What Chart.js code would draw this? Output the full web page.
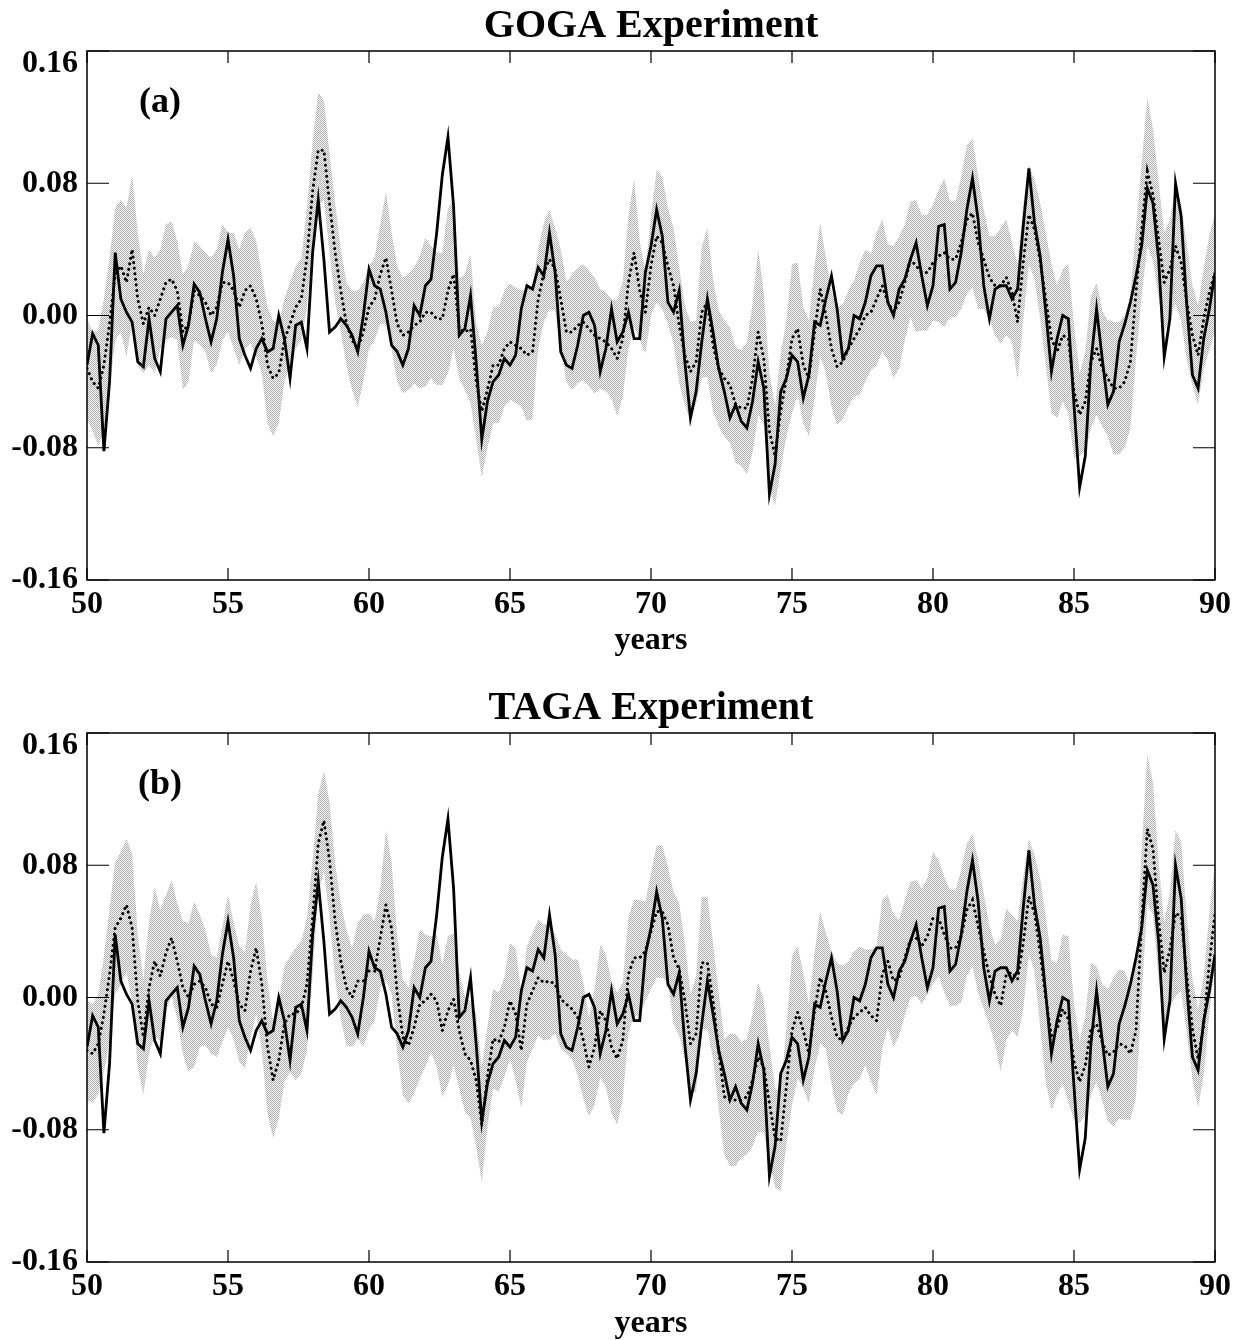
<!DOCTYPE html>
<html>
<head>
<meta charset="utf-8">
<title>GOGA / TAGA Experiment</title>
<script src="https://cdn.jsdelivr.net/npm/chart.js@4.4.1/dist/chart.umd.min.js"></script>
<style>
  html, body { margin: 0; padding: 0; background: #fff; }
  #wrap { position: relative; width: 1241px; height: 1340px; }
  canvas { position: absolute; left: 0; }
  #goga { top: 0; }
  #taga { top: 682px; }
</style>
</head>
<body>
<div id="wrap">
  <canvas id="goga" width="1241" height="682"></canvas>
  <canvas id="taga" width="1241" height="658"></canvas>
</div>
<script>
// every series is sampled each 0.2 year, from year 50.0 to 90.0 (one row per year)
const obs = [
  -0.030, -0.011, -0.018, -0.082, -0.040,
   0.038,  0.010,  0.002, -0.004, -0.028,
  -0.031, -0.002, -0.026, -0.034, -0.002,
   0.002,  0.006, -0.018, -0.006,  0.019,
   0.014, -0.002, -0.016, -0.002,  0.026,
   0.046,  0.024, -0.014, -0.024, -0.032,
  -0.020, -0.014, -0.022, -0.020,  0.000,
  -0.014, -0.038, -0.006, -0.004, -0.020,
   0.038,  0.070,  0.034, -0.010, -0.007,
  -0.002, -0.006, -0.012, -0.022,  0.000,
   0.028,  0.018,  0.016,  0.002, -0.018,
  -0.022, -0.030, -0.020,  0.006,  0.000,
   0.018,  0.022,  0.050,  0.085,  0.108,
   0.066, -0.012, -0.008,  0.012, -0.028,
  -0.075, -0.052, -0.040, -0.036, -0.026,
  -0.030, -0.024,  0.004,  0.018,  0.016,
   0.029,  0.024,  0.050,  0.026, -0.022,
  -0.030, -0.032, -0.018,  0.000,  0.002,
  -0.006, -0.034, -0.020,  0.004, -0.016,
  -0.010,  0.002, -0.014, -0.014,  0.026,
   0.042,  0.064,  0.048,  0.008,  0.002,
   0.015, -0.028, -0.062, -0.046, -0.016,
   0.010, -0.010, -0.032, -0.046, -0.062,
  -0.054, -0.064, -0.068, -0.052, -0.028,
  -0.044, -0.108, -0.090, -0.046, -0.038,
  -0.024, -0.028, -0.050, -0.036, -0.004,
  -0.006,  0.010,  0.024,  0.004, -0.026,
  -0.020,  0.000, -0.002,  0.008,  0.024,
   0.030,  0.030,  0.008,  0.000,  0.016,
   0.022,  0.034,  0.044,  0.024,  0.006,
   0.018,  0.054,  0.055,  0.016,  0.020,
   0.038,  0.064,  0.083,  0.058,  0.018,
  -0.002,  0.016,  0.018,  0.018,  0.010,
   0.016,  0.054,  0.089,  0.056,  0.036,
   0.002, -0.034, -0.014,  0.000, -0.002,
  -0.054, -0.104, -0.085, -0.028,  0.004,
  -0.026, -0.054, -0.046, -0.016, -0.005,
   0.008,  0.024,  0.042,  0.077,  0.068,
   0.034, -0.025, -0.002,  0.080,  0.060,
   0.006, -0.036, -0.044, -0.014,  0.004,
   0.026
];

// GOGA ensemble mean and half-width of the ensemble spread
const gogaMean = [
  -0.032, -0.040, -0.044, -0.030, -0.005,
   0.025,  0.030,  0.020,  0.040,  0.010,
  -0.005,  0.005,  0.000,  0.010,  0.020,
   0.022,  0.015, -0.010, -0.005,  0.015,
   0.012,  0.008,  0.000,  0.005,  0.020,
   0.020,  0.015,  0.005,  0.015,  0.018,
   0.010, -0.005, -0.030, -0.038, -0.035,
  -0.015, -0.005,  0.005,  0.010,  0.035,
   0.075,  0.100,  0.100,  0.068,  0.038,
   0.015, -0.005, -0.015, -0.020, -0.010,
   0.005,  0.010,  0.025,  0.035,  0.015,
  -0.005, -0.012, -0.010, -0.006, -0.004,
   0.002,  0.002, -0.002, -0.002,  0.015,
   0.025, -0.008, -0.010, -0.008, -0.040,
  -0.058, -0.045, -0.030, -0.030, -0.020,
  -0.016, -0.018, -0.020, -0.024, -0.022,
   0.010,  0.026,  0.034,  0.028,  0.010,
  -0.010, -0.010, -0.006, -0.004, -0.008,
  -0.012, -0.014, -0.016, -0.020, -0.026,
  -0.014,  0.020,  0.038,  0.015,  0.002,
   0.030,  0.048,  0.044,  0.030,  0.018,
  -0.006, -0.024, -0.034, -0.028,  0.002,
   0.008, -0.018, -0.032, -0.038, -0.042,
  -0.054, -0.056, -0.056, -0.038, -0.010,
  -0.026, -0.070, -0.085, -0.058, -0.038,
  -0.014, -0.008, -0.030, -0.038, -0.010,
   0.016,  0.000, -0.020, -0.031, -0.028,
  -0.020, -0.014, -0.008,  0.000,  0.002,
   0.010,  0.018,  0.008,  0.002,  0.008,
   0.020,  0.034,  0.030,  0.026,  0.026,
   0.032,  0.036,  0.038,  0.034,  0.034,
   0.044,  0.058,  0.062,  0.044,  0.034,
   0.023,  0.018,  0.018,  0.023,  0.014,
  -0.004,  0.032,  0.061,  0.052,  0.033,
   0.010, -0.014, -0.022, -0.012, -0.014,
  -0.046, -0.060, -0.052, -0.028, -0.020,
  -0.032, -0.038, -0.044, -0.044, -0.040,
  -0.028,  0.014,  0.052,  0.087,  0.073,
   0.046,  0.020,  0.028,  0.042,  0.032,
   0.008, -0.012, -0.024, -0.002,  0.014,
   0.026
];
const gogaSpread = [
  0.030, 0.030, 0.035, 0.040, 0.040,
  0.040, 0.040, 0.045, 0.045, 0.040,
  0.030, 0.035, 0.035, 0.030, 0.035,
  0.035, 0.030, 0.035, 0.035, 0.030,
  0.030, 0.030, 0.035, 0.035, 0.035,
  0.030, 0.035, 0.035, 0.035, 0.035,
  0.035, 0.030, 0.035, 0.035, 0.030,
  0.025, 0.025, 0.025, 0.025, 0.030,
  0.030, 0.035, 0.030, 0.030, 0.030,
  0.025, 0.025, 0.030, 0.035, 0.030,
  0.025, 0.025, 0.030, 0.040, 0.035,
  0.035, 0.035, 0.035, 0.035, 0.040,
  0.045, 0.040, 0.040, 0.040, 0.050,
  0.045, 0.030, 0.035, 0.045, 0.035,
  0.040, 0.035, 0.035, 0.035, 0.035,
  0.035, 0.035, 0.035, 0.040, 0.040,
  0.030, 0.030, 0.030, 0.025, 0.030,
  0.030, 0.035, 0.035, 0.035, 0.035,
  0.035, 0.030, 0.030, 0.030, 0.035,
  0.035, 0.040, 0.045, 0.030, 0.025,
  0.030, 0.040, 0.040, 0.035, 0.035,
  0.035, 0.030, 0.030, 0.025, 0.040,
  0.045, 0.040, 0.035, 0.035, 0.035,
  0.035, 0.035, 0.040, 0.045, 0.050,
  0.040, 0.035, 0.030, 0.035, 0.035,
  0.045, 0.040, 0.035, 0.035, 0.040,
  0.040, 0.035, 0.035, 0.035, 0.035,
  0.035, 0.035, 0.040, 0.040, 0.035,
  0.040, 0.040, 0.035, 0.040, 0.040,
  0.035, 0.035, 0.040, 0.035, 0.035,
  0.035, 0.040, 0.045, 0.035, 0.035,
  0.040, 0.045, 0.045, 0.040, 0.030,
  0.025, 0.030, 0.035, 0.035, 0.030,
  0.035, 0.035, 0.030, 0.030, 0.035,
  0.040, 0.045, 0.040, 0.040, 0.045,
  0.040, 0.025, 0.030, 0.040, 0.040,
  0.035, 0.035, 0.040, 0.040, 0.040,
  0.040, 0.040, 0.040, 0.045, 0.040,
  0.035, 0.030, 0.030, 0.035, 0.035,
  0.035, 0.030, 0.030, 0.030, 0.035,
  0.035
];

// TAGA ensemble mean and half-width of the ensemble spread
const tagaMean = [
  -0.032, -0.034, -0.028, -0.010,  0.014,
   0.042,  0.048,  0.056,  0.042, -0.002,
  -0.024,  0.006,  0.022,  0.013,  0.027,
   0.036,  0.022,  0.006,  0.000,  0.008,
   0.010,  0.006, -0.004, -0.006,  0.008,
   0.022,  0.010, -0.004, -0.008,  0.016,
   0.030,  0.008, -0.030, -0.050, -0.038,
  -0.016, -0.010, -0.010, -0.006,  0.008,
   0.048,  0.093,  0.107,  0.083,  0.046,
   0.022,  0.006,  0.000,  0.010,  0.010,
   0.016,  0.016,  0.036,  0.056,  0.042,
   0.002, -0.024, -0.029, -0.018, -0.004,
  -0.002,  0.002, -0.002, -0.020, -0.008,
  -0.001, -0.020, -0.034, -0.038, -0.050,
  -0.077, -0.048, -0.025, -0.027, -0.018,
  -0.002, -0.010, -0.032, -0.004,  0.004,
   0.012,  0.009,  0.010,  0.008, -0.001,
  -0.004, -0.007, -0.012, -0.026, -0.042,
  -0.030, -0.008, -0.014, -0.030, -0.037,
  -0.026,  0.014,  0.024,  0.024,  0.028,
   0.040,  0.052,  0.052,  0.044,  0.024,
   0.017, -0.002, -0.028, -0.022,  0.021,
   0.021, -0.002, -0.032, -0.060, -0.062,
  -0.062, -0.062, -0.060, -0.050, -0.036,
  -0.042, -0.064, -0.085, -0.087, -0.054,
  -0.020, -0.009, -0.020, -0.034, -0.008,
   0.012,  0.004, -0.012, -0.024, -0.026,
  -0.018, -0.012, -0.009, -0.006, -0.011,
  -0.014,  0.014,  0.022,  0.010,  0.012,
   0.024,  0.035,  0.036,  0.031,  0.037,
   0.048,  0.048,  0.038,  0.030,  0.030,
   0.037,  0.053,  0.059,  0.043,  0.028,
   0.013,  0.002, -0.005,  0.014,  0.015,
   0.011,  0.033,  0.061,  0.051,  0.027,
  -0.001, -0.023, -0.019, -0.007, -0.013,
  -0.039, -0.051, -0.041, -0.019, -0.016,
  -0.027, -0.035, -0.033, -0.028, -0.029,
  -0.034, -0.020,  0.045,  0.102,  0.090,
   0.047,  0.015,  0.029,  0.051,  0.049,
   0.013, -0.019, -0.037, -0.017,  0.021,
   0.051
];
const tagaSpread = [
  0.030, 0.030, 0.030, 0.035, 0.040,
  0.040, 0.040, 0.040, 0.045, 0.040,
  0.035, 0.040, 0.045, 0.040, 0.035,
  0.035, 0.035, 0.040, 0.045, 0.050,
  0.040, 0.035, 0.030, 0.030, 0.035,
  0.040, 0.035, 0.035, 0.035, 0.040,
  0.040, 0.040, 0.040, 0.035, 0.035,
  0.035, 0.035, 0.040, 0.040, 0.040,
  0.035, 0.030, 0.030, 0.035, 0.035,
  0.035, 0.035, 0.030, 0.035, 0.040,
  0.035, 0.030, 0.030, 0.045, 0.040,
  0.035, 0.035, 0.035, 0.040, 0.045,
  0.040, 0.035, 0.040, 0.040, 0.045,
  0.040, 0.035, 0.035, 0.035, 0.040,
  0.035, 0.030, 0.030, 0.030, 0.030,
  0.035, 0.040, 0.035, 0.035, 0.035,
  0.035, 0.035, 0.035, 0.030, 0.030,
  0.030, 0.030, 0.035, 0.035, 0.030,
  0.035, 0.040, 0.040, 0.040, 0.040,
  0.035, 0.035, 0.035, 0.035, 0.030,
  0.035, 0.040, 0.040, 0.035, 0.040,
  0.040, 0.035, 0.030, 0.035, 0.040,
  0.040, 0.035, 0.035, 0.035, 0.040,
  0.040, 0.035, 0.035, 0.040, 0.045,
  0.040, 0.035, 0.030, 0.030, 0.035,
  0.045, 0.040, 0.035, 0.030, 0.035,
  0.040, 0.035, 0.040, 0.045, 0.045,
  0.040, 0.040, 0.040, 0.035, 0.040,
  0.045, 0.045, 0.040, 0.040, 0.035,
  0.035, 0.035, 0.035, 0.035, 0.035,
  0.040, 0.035, 0.035, 0.035, 0.035,
  0.040, 0.040, 0.040, 0.040, 0.035,
  0.030, 0.030, 0.040, 0.040, 0.035,
  0.035, 0.040, 0.035, 0.035, 0.045,
  0.050, 0.045, 0.040, 0.045, 0.050,
  0.035, 0.025, 0.030, 0.040, 0.035,
  0.035, 0.040, 0.045, 0.045, 0.045,
  0.040, 0.040, 0.045, 0.045, 0.040,
  0.035, 0.030, 0.035, 0.050, 0.045,
  0.035, 0.030, 0.030, 0.030, 0.030,
  0.030
];

const years = obs.map((_, i) => Math.round((50 + i * 0.2) * 10) / 10);

const SERIF = '"Liberation Serif", "Times New Roman", Times, serif';
const font = (size) => ({ family: SERIF, size: size, weight: 'bold' });

// grey halftone used for the ensemble spread
const stipple = (ctx) => {
  const c = document.createElement('canvas');
  c.width = 2;
  c.height = 2;
  const g = c.getContext('2d');
  g.fillStyle = '#f6f6f6';
  g.fillRect(0, 0, 2, 2);
  g.fillStyle = '#b0b0b0';
  g.fillRect(0, 0, 1, 1);
  g.fillRect(1, 1, 1, 1);
  return ctx.createPattern(c, 'repeat');
};

// box around the plot, inward ticks on all four sides, y labels, panel letter
const framePlugin = {
  id: 'frame',
  afterDraw(chart, args, opts) {
    const { ctx, chartArea: a, scales: { x, y } } = chart;
    ctx.save();
    ctx.strokeStyle = '#000';
    ctx.lineWidth = 1.5;
    ctx.strokeRect(a.left, a.top, a.right - a.left, a.bottom - a.top);
    ctx.lineWidth = 1.2;
    ctx.beginPath();
    x.ticks.forEach(t => {
      const px = x.getPixelForValue(t.value);
      ctx.moveTo(px, a.bottom);
      ctx.lineTo(px, a.bottom - 12);
      ctx.moveTo(px, a.top);
      ctx.lineTo(px, a.top + 12);
    });
    y.ticks.forEach(t => {
      const py = y.getPixelForValue(t.value);
      ctx.moveTo(a.left, py);
      ctx.lineTo(a.left + 22, py);
      ctx.moveTo(a.right, py);
      ctx.lineTo(a.right - 22, py);
    });
    ctx.stroke();

    ctx.fillStyle = '#000';
    ctx.font = 'bold 32px ' + SERIF;
    ctx.textAlign = 'right';
    y.ticks.forEach(t => {
      // the top label hangs from the frame instead of centring on it
      const top = t.value >= y.max - 1e-9;
      ctx.textBaseline = top ? 'top' : 'middle';
      ctx.fillText(t.value.toFixed(2), a.left - 9, y.getPixelForValue(t.value) + (top ? -3 : 0));
    });

    ctx.font = 'bold 36px ' + SERIF;
    ctx.textAlign = 'center';
    ctx.textBaseline = 'middle';
    ctx.fillText(opts.label, a.left + 73, a.top + 52);
    ctx.restore();
  }
};

const drawPanel = (id, title, label, mean, spread, axisHeight, titlePad) => {
  const canvas = document.getElementById(id);
  const ctx = canvas.getContext('2d');
  const pts = arr => arr.map((v, i) => ({ x: years[i], y: v }));
  const upper = mean.map((m, i) => m + spread[i]);
  const lower = mean.map((m, i) => m - spread[i]);

  return new Chart(canvas, {
    type: 'line',
    data: {
      datasets: [{
        label: 'observed',
        data: pts(obs),
        borderColor: '#000',
        borderWidth: 2.8,
        pointRadius: 0,
        fill: false
      }, {
        label: 'ensemble mean',
        data: pts(mean),
        borderColor: '#000',
        borderWidth: 3,
        borderCapStyle: 'round',
        borderDash: [0.1, 5.5],
        pointRadius: 0,
        fill: false
      }, {
        label: 'spread upper',
        data: pts(upper),
        borderColor: 'rgba(0,0,0,0)',
        borderWidth: 1,
        pointRadius: 0,
        backgroundColor: stipple(ctx),
        fill: '+1'
      }, {
        label: 'spread lower',
        data: pts(lower),
        borderColor: 'rgba(0,0,0,0)',
        borderWidth: 1,
        pointRadius: 0,
        fill: false
      }]
    },
    options: {
      responsive: false,
      devicePixelRatio: 1,
      animation: false,
      events: [],
      layout: { padding: { left: 0, right: 26, top: 0, bottom: 0 } },
      plugins: {
        legend: { display: false },
        tooltip: { enabled: false },
        title: {
          display: true,
          fullSize: false,
          text: title,
          color: '#000',
          font: font(40),
          padding: { top: 3, bottom: 0 }
        },
        frame: { label: label }
      },
      scales: {
        x: {
          type: 'linear',
          min: 50,
          max: 90,
          afterFit: s => { s.height = axisHeight; },
          ticks: { stepSize: 5, color: '#000', font: font(32), padding: 6, maxRotation: 0 },
          grid: { display: false, drawTicks: false },
          border: { display: false },
          title: { display: true, text: 'years', color: '#000', font: font(32), padding: { top: 0, bottom: titlePad } }
        },
        y: {
          min: -0.16,
          max: 0.16,
          afterFit: s => { s.width = 87; },
          ticks: { stepSize: 0.08, display: false },
          grid: { display: false, drawTicks: false },
          border: { display: false }
        }
      }
    },
    plugins: [framePlugin]
  });
};

drawPanel('goga', 'GOGA Experiment', '(a)', gogaMean, gogaSpread, 102, 22);
drawPanel('taga', 'TAGA Experiment', '(b)', tagaMean, tagaSpread, 78, -3);
</script>
</body>
</html>
